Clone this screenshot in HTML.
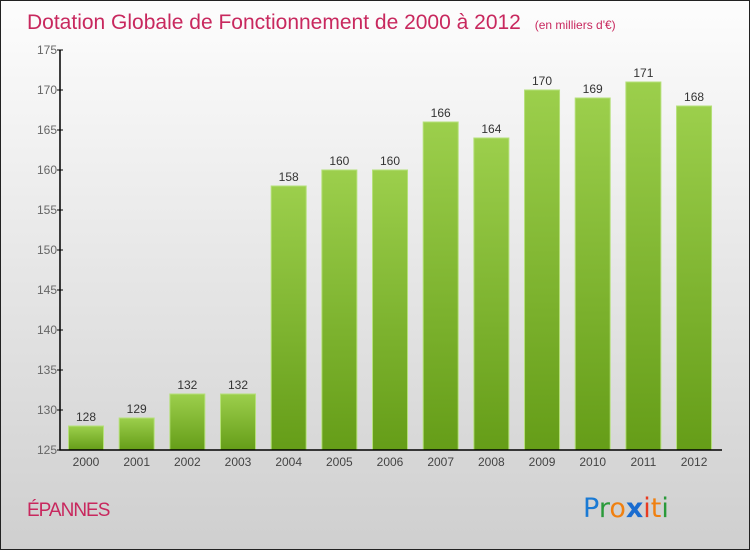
<!DOCTYPE html>
<html><head><meta charset="utf-8"><style>
body{margin:0;width:750px;height:550px;overflow:hidden}
svg{display:block;font-family:"Liberation Sans",sans-serif}
</style></head><body>
<svg id="c" width="750" height="550">
<defs>
<linearGradient id="bg" x1="0" y1="0" x2="0" y2="1"><stop offset="0" stop-color="#fdfdfd"/><stop offset="1" stop-color="#cfcfcf"/></linearGradient>
<linearGradient id="bar" x1="0" y1="0" x2="0" y2="1"><stop offset="0" stop-color="#9ccf4c"/><stop offset="1" stop-color="#659d18"/></linearGradient>
</defs>
<rect x="0.5" y="0.5" width="749" height="549" fill="url(#bg)" stroke="#222"/>
<text x="27" y="29" font-size="21" fill="#c8285e">Dotation Globale de Fonctionnement de 2000 à 2012 <tspan font-size="12" dx="8">(en milliers d'€)</tspan></text>
<text x="27" y="516" font-size="19" fill="#c8285e" letter-spacing="-1">ÉPANNES</text>
<g font-size="27" font-family="'DejaVu Sans',sans-serif">
<text x="583" y="517" fill="#1a7ad4">P<tspan fill="#2a9a3a">r</tspan><tspan fill="#f08010">o</tspan><tspan fill="#1a6cd0" font-weight="bold">x</tspan><tspan fill="#e83a20">i</tspan><tspan fill="#f08010">t</tspan><tspan fill="#2a9a3a">i</tspan></text>
</g>
<g id="plot"></g>
</svg>
<script>
const categories=["2000","2001","2002","2003","2004","2005","2006","2007","2008","2009","2010","2011","2012"];
const values=[128,129,132,132,158,160,160,166,164,170,169,171,168];
const yTicks=[125,130,135,140,145,150,155,160,165,170,175];
const ns="http://www.w3.org/2000/svg";
const g=document.getElementById('plot');
const y0=450,y1=50,vmin=125,vmax=175,x0=60;
const y=v=>y0-(v-vmin)/(vmax-vmin)*(y0-y1);
const xc=i=>86+i*50.67;
function mk(t,a,p){const e=document.createElementNS(ns,t);for(const k in a)e.setAttribute(k,a[k]);(p||g).appendChild(e);return e;}
values.forEach((v,i)=>{
 const r=mk('rect',{x:xc(i)-17.5,y:y(v),width:35,height:y0-y(v),fill:'url(#bar)',stroke:'#b5e07a','stroke-width':1});
 
 
 const l=mk('text',{x:xc(i),y:y(v)-5,'text-anchor':'middle','font-size':12,fill:'#333'});
 l.textContent=v;
 
 
 const c=mk('text',{x:xc(i),y:466,'text-anchor':'middle','font-size':12,fill:'#444'});
 c.textContent=categories[i];
 
 
});
const ax=mk('path',{d:`M${x0},${y1}V${y0}H722`,stroke:'#000',fill:'none','stroke-width':1.5});


yTicks.forEach(t=>{
 const tk=mk('line',{x1:x0-3,x2:x0+3,y1:y(t),y2:y(t),stroke:'#000'});
 
 
 const l=mk('text',{x:x0-3,y:y(t)+4,'text-anchor':'end','font-size':12,fill:'#666'});
 l.textContent=t;
 
 
});
</script>
</body></html>
